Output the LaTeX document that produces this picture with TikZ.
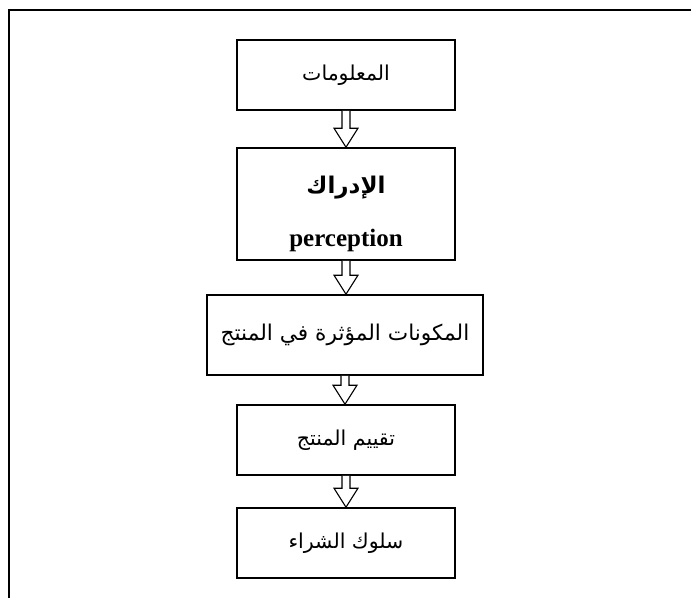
\documentclass[tikz,border=0pt]{standalone}
\usepackage{fontspec}
\setmainfont{Liberation Serif}
\newfontfamily\arabicfont[Script=Arabic]{DejaVu Sans}
\TeXXeTstate=1
\usetikzlibrary{calc}

\tikzset{
  frame/.style={line width=1.8pt},
  stage/.style={draw, line width=1.6pt, rectangle, inner sep=0pt,
    minimum width=218pt, minimum height=70pt, align=center,
    font=\arabicfont\fontsize{20.5}{24}\selectfont},
  hollow/.style={draw, line width=1.1pt, fill=white, line join=miter}
}

% block arrow from the bottom of one stage to the top of the next
\newcommand\flowarrow[2]{%
  \path[hollow] let \p1=(#1.south), \p2=(#2.north) in
    (\x1-4pt,\y1) -- (\x1-4pt,\y2+19pt) -- (\x1-12pt,\y2+19pt) --
    (\x1,\y2) -- (\x1+12pt,\y2+19pt) -- (\x1+4pt,\y2+19pt) --
    (\x1+4pt,\y1);%
}

\begin{document}
\begin{tikzpicture}[x=1pt,y=-1pt]
  \useasboundingbox (0,0) rectangle (691,598);

  % page frame: top and left rules
  \draw[frame] (9,598) -- (9,10) -- (691,10);

  \node[stage] (info) at (346,75) {\beginR المعلومات\endR};
  \node[stage, minimum height=112pt] (perc) at (346,204) {};
  \node[font=\arabicfont\bfseries\fontsize{23}{27}\selectfont] (percar) at (346,188) {\beginR الإدراك\endR};
  \node[font=\bfseries\fontsize{25}{29}\selectfont] (percen) at (346,240) {perception};
  \node[stage, minimum width=276pt, minimum height=80pt,
        font=\arabicfont\fontsize{21.7}{26}\selectfont] (comp) at (345,335) {\beginR المكونات المؤثرة في المنتج\endR};
  \node[stage] (eval) at (346,440) {\beginR تقييم المنتج\endR};
  \node[stage] (buy) at (346,543) {\beginR سلوك الشراء\endR};

  \flowarrow{info}{perc}
  \flowarrow{perc}{comp}
  \flowarrow{comp}{eval}
  \flowarrow{eval}{buy}
\end{tikzpicture}
\end{document}
